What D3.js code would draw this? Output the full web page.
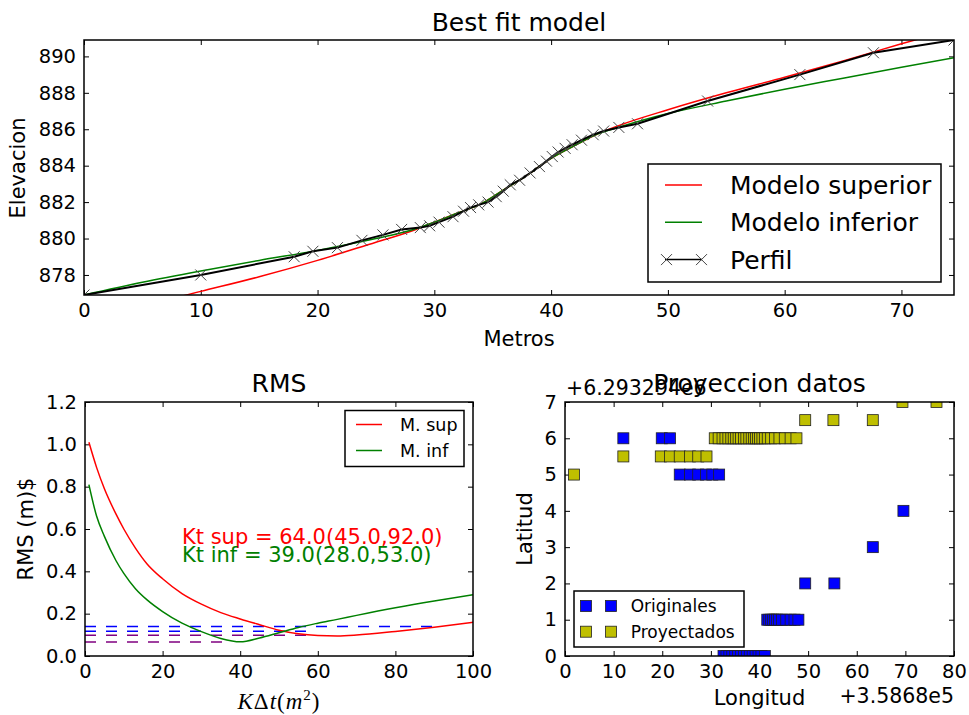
<!DOCTYPE html>
<html>
<head>
<meta charset="utf-8">
<script src="https://cdn.jsdelivr.net/npm/d3@7"></script>
<style>
  body { margin: 0; background: #fff; }
  text { font-family: 'DejaVu Sans', sans-serif; fill: #000; }
</style>
</head>
<body>
<div id="main"></div>
<script>
// ---- data: perfil y modelos (Metros / Elevacion)
const perfilMetros = [0, 10, 18.0, 19.6, 21.7, 23.8, 25.6, 27.2, 28.8, 29.6, 30.4, 31.6, 32.5, 33.1, 33.8, 34.6,
    35.3, 35.9, 36.5, 37.3, 38.2, 39.0, 39.6, 40.1, 40.6, 41.2, 41.8, 42.6, 43.6, 44.5, 45.8, 47.4, 53.4, 61.3, 67.6, 74.5];
const perfilElev = [876.9, 878.0, 879.0, 879.3, 879.5, 879.9, 880.2, 880.5, 880.6, 880.7, 880.9, 881.2, 881.5, 881.7, 881.85, 882.0,
    882.3, 882.6, 882.95, 883.2, 883.6, 883.95, 884.25, 884.5, 884.75, 884.95, 885.15, 885.4, 885.7, 885.9, 886.1, 886.3, 887.55, 889.0, 890.2, 890.9];

const modeloMetros = [0, 5, 10, 15, 20, 25, 28, 30, 32, 34, 36, 38, 40, 42, 44, 46, 50, 55, 60, 65, 70, 74.5];
const supElev = [875.6, 876.3, 877.1, 877.9, 878.8, 879.8, 880.4, 880.9, 881.4, 881.9, 882.7, 883.5, 884.4, 885.1, 885.75, 886.25, 887.07, 888.0, 888.86, 889.75, 890.69, 891.5];
const infElev = [876.9, 877.6, 878.22, 878.8, 879.35, 880.0, 880.45, 880.9, 881.4, 881.9, 882.7, 883.5, 884.4, 885.1, 885.75, 886.15, 886.86, 887.55, 888.2, 888.8, 889.4, 889.92];

// ---- data: RMS
const ktValues = [1, 3, 5, 8, 10, 13, 16, 20, 25, 30, 35, 40, 45, 50, 55, 60, 65, 70, 80, 90, 100];
const rmsSup = [1.01, 0.89, 0.79, 0.67, 0.60, 0.51, 0.435, 0.365, 0.295, 0.245, 0.205, 0.175, 0.148, 0.122, 0.105, 0.097, 0.095, 0.099, 0.116, 0.136, 0.159];
const rmsInf = [0.81, 0.66, 0.565, 0.45, 0.39, 0.318, 0.265, 0.21, 0.155, 0.115, 0.083, 0.067, 0.085, 0.11, 0.135, 0.155, 0.173, 0.192, 0.228, 0.26, 0.289];
const rmsLevels = [0.139, 0.117, 0.098, 0.066];
const rmsLevelEnd = [90, 58, 57, 36];
const rmsLevelColor = ['blue', 'blue', 'purple', 'purple'];

// ---- data: proyeccion (offsets +3.5868e5, +6.293294e6)
const origLon = [12.0, 19.9, 21.6, 23.6, 25.7, 27.4, 29.0, 30.3, 31.7,
    41.6, 42.0, 42.4, 42.8, 43.2, 43.6, 44.0, 44.6, 45.5, 46.4, 47.2, 48.0,
    32.6, 33.2, 33.8, 34.4, 35.0, 35.6, 36.2, 36.8, 37.4, 38.0, 38.6, 39.2, 39.8, 40.4, 41.1,
    49.4, 55.4, 63.3, 69.6];
const origLat = [6, 6, 6, 5, 5, 5, 5, 5, 5,
    1, 1, 1, 1, 1, 1, 1, 1, 1, 1, 1, 1,
    0, 0, 0, 0, 0, 0, 0, 0, 0, 0, 0, 0, 0, 0, 0,
    2, 2, 3, 4];
const proyLon = [1.85, 12.0, 19.7, 21.6, 23.6, 25.7, 27.4, 29.1,
    30.8, 31.6, 32.4, 33.0, 33.6, 34.2, 34.7, 35.2, 35.7, 36.2, 36.8, 37.3, 37.9, 38.4, 38.9, 39.3, 39.7, 40.1, 40.6, 41.1, 41.7, 42.4, 43.2, 44.1, 45.2, 46.4, 47.6,
    49.4, 55.2, 63.3, 69.4, 76.4];
const proyLat = [5, 5.5, 5.5, 5.5, 5.5, 5.5, 5.5, 5.5,
    6, 6, 6, 6, 6, 6, 6, 6, 6, 6, 6, 6, 6, 6, 6, 6, 6, 6, 6, 6, 6, 6, 6, 6, 6, 6, 6,
    6.5, 6.5, 6.5, 7, 7];

const width = 969, height = 715;
const svg = d3.select('#main').append('svg').attr('width', width).attr('height', height);

const zip = (xs, ys) => xs.map((x, i) => [x, ys[i]]);

// draws frame, inward ticks on the four sides and returns a clipped group
function drawPanel(p, xScale, yScale, xTicks, yTicks, yFmt) {
    const g = svg.append('g').attr('transform', `translate(${p.x},${p.y})`);
    g.append('clipPath').attr('id', p.id).append('rect')
        .attr('width', p.w).attr('height', p.h);

    const axes = [
        [d3.axisBottom(xScale).tickValues(xTicks).tickFormat(d3.format('d')).tickPadding(8), p.h, 0],
        [d3.axisTop(xScale).tickValues(xTicks).tickFormat(''), 0, 0],
        [d3.axisLeft(yScale).tickValues(yTicks).tickFormat(yFmt).tickPadding(8), 0, 0],
        [d3.axisRight(yScale).tickValues(yTicks).tickFormat(''), 0, p.w]
    ];
    axes.forEach(([ax, ty, tx]) => {
        const a = g.append('g').attr('transform', `translate(${tx},${ty})`)
            .call(ax.tickSizeInner(-5).tickSizeOuter(0));
        a.select('.domain').remove();
        a.selectAll('line').attr('stroke', '#000').attr('stroke-width', 1);
        a.selectAll('text').style('font-size', '19.5px').style('font-family', 'DejaVu Sans');
    });

    const plot = g.append('g').attr('clip-path', `url(#${p.id})`);
    return { g, plot, frame: () => g.append('rect').attr('width', p.w).attr('height', p.h)
        .attr('fill', 'none').attr('stroke', '#000').attr('stroke-width', 1.5) };
}

// ============ Best fit model
const pTop = { id: 'clipTop', x: 84, y: 40, w: 870, h: 255 };
const xTop = d3.scaleLinear().domain([0, 74.5]).range([0, pTop.w]);
const yTop = d3.scaleLinear().domain([876.9, 890.9]).range([pTop.h, 0]);
const topPanel = drawPanel(pTop, xTop, yTop, d3.range(0, 71, 10), d3.range(878, 891, 2), d3.format('d'));

const lineTop = d3.line().x(d => xTop(d[0])).y(d => yTop(d[1]));
topPanel.plot.append('path').datum(zip(modeloMetros, supElev))
    .attr('d', lineTop.curve(d3.curveMonotoneX)).attr('fill', 'none').attr('stroke', 'red').attr('stroke-width', 1.5);
topPanel.plot.append('path').datum(zip(modeloMetros, infElev))
    .attr('d', lineTop.curve(d3.curveMonotoneX)).attr('fill', 'none').attr('stroke', 'green').attr('stroke-width', 1.5);
topPanel.plot.append('path').datum(zip(perfilMetros, perfilElev))
    .attr('d', lineTop.curve(d3.curveLinear)).attr('fill', 'none').attr('stroke', '#000').attr('stroke-width', 2);

function xMark(sel, s) {
    sel.append('path').attr('d', `M${-s},${-s}L${s},${s}M${-s},${s}L${s},${-s}`)
        .attr('stroke', '#444').attr('stroke-width', 1).attr('fill', 'none');
}
topPanel.plot.selectAll('.perfil').data(zip(perfilMetros, perfilElev)).enter()
    .append('g').attr('class', 'perfil')
    .attr('transform', d => `translate(${xTop(d[0])},${yTop(d[1])})`)
    .each(function () { xMark(d3.select(this), 5.5); });
topPanel.frame();

// legend
const lgTop = topPanel.g.append('g').attr('transform', `translate(${648 - pTop.x},${164 - pTop.y})`);
lgTop.append('rect').attr('width', 293).attr('height', 118).attr('fill', '#fff').attr('stroke', '#000').attr('stroke-width', 1.5);
const topEntries = [['Modelo superior', 'red'], ['Modelo inferior', 'green'], ['Perfil', '#000']];
topEntries.forEach(([label, color], i) => {
    const y = 21 + i * 37.3;
    lgTop.append('line').attr('x1', 17).attr('x2', 54).attr('y1', y).attr('y2', y)
        .attr('stroke', color).attr('stroke-width', 1.5);
    if (i === 2) {
        [18.5, 53.5].forEach(x => xMark(lgTop.append('g').attr('transform', `translate(${x},${y})`), 5.5));
    }
    lgTop.append('text').attr('x', 82).attr('y', y + 9).style('font-size', '25px').text(label);
});

svg.append('text').attr('x', pTop.x + pTop.w / 2).attr('y', 31).style('font-size', '25px')
    .style('text-anchor', 'middle').text('Best fit model');
svg.append('text').attr('x', pTop.x + pTop.w / 2).attr('y', 346).style('font-size', '21px')
    .style('text-anchor', 'middle').text('Metros');
svg.append('text').attr('x', 25).attr('y', 168).style('font-size', '21px')
    .style('text-anchor', 'middle').attr('transform', 'rotate(-90,25,168)').text('Elevacion');

// ============ RMS
const pRms = { id: 'clipRms', x: 85, y: 402, w: 388, h: 254 };
const xRms = d3.scaleLinear().domain([0, 100]).range([0, pRms.w]);
const yRms = d3.scaleLinear().domain([0, 1.2]).range([pRms.h, 0]);
const rms = drawPanel(pRms, xRms, yRms, d3.range(0, 101, 20), d3.range(0, 1.21, 0.2), d3.format('.1f'));

rmsLevels.forEach((lv, i) => {
    rms.plot.append('line').attr('x1', xRms(0)).attr('x2', xRms(rmsLevelEnd[i]))
        .attr('y1', yRms(lv)).attr('y2', yRms(lv))
        .attr('stroke', rmsLevelColor[i]).attr('stroke-width', 1.5).attr('stroke-dasharray', '11,10');
});
const lineRms = d3.line().x(d => xRms(d[0])).y(d => yRms(d[1])).curve(d3.curveMonotoneX);
rms.plot.append('path').datum(zip(ktValues, rmsSup)).attr('d', lineRms)
    .attr('fill', 'none').attr('stroke', 'red').attr('stroke-width', 1.5);
rms.plot.append('path').datum(zip(ktValues, rmsInf)).attr('d', lineRms)
    .attr('fill', 'none').attr('stroke', 'green').attr('stroke-width', 1.5);
rms.frame();

rms.g.append('text').attr('x', xRms(25)).attr('y', yRms(0.527)).style('font-size', '21px')
    .style('fill', 'red').text('Kt sup = 64.0(45.0,92.0)');
rms.g.append('text').attr('x', xRms(25)).attr('y', yRms(0.445)).style('font-size', '21px')
    .style('fill', 'green').text('Kt inf = 39.0(28.0,53.0)');

const lgRms = rms.g.append('g').attr('transform', `translate(${345 - pRms.x},${410.5 - pRms.y})`);
lgRms.append('rect').attr('width', 119).attr('height', 56).attr('fill', '#fff').attr('stroke', '#000').attr('stroke-width', 1.5);
[['M. sup', 'red'], ['M. inf', 'green']].forEach(([label, color], i) => {
    const y = 14 + i * 26;
    lgRms.append('line').attr('x1', 11).attr('x2', 37).attr('y1', y).attr('y2', y)
        .attr('stroke', color).attr('stroke-width', 1.5);
    lgRms.append('text').attr('x', 55).attr('y', y + 6).style('font-size', '17.5px').text(label);
});

svg.append('text').attr('x', pRms.x + pRms.w / 2).attr('y', 392).style('font-size', '25px')
    .style('text-anchor', 'middle').text('RMS');
svg.append('text').attr('x', 33).attr('y', 529).style('font-size', '21px')
    .style('text-anchor', 'middle').attr('transform', 'rotate(-90,33,529)').text('RMS (m)$');
const kLabel = svg.append('text').attr('x', pRms.x + pRms.w / 2).attr('y', 709)
    .style('text-anchor', 'middle').style('font-family', 'Liberation Serif, DejaVu Serif, serif')
    .style('font-size', '23px').style('letter-spacing', '1px');
kLabel.append('tspan').style('font-style', 'italic').text('K');
kLabel.append('tspan').text('Δ');
kLabel.append('tspan').style('font-style', 'italic').text('t');
kLabel.append('tspan').text('(');
kLabel.append('tspan').style('font-style', 'italic').text('m');
kLabel.append('tspan').attr('dy', -9).style('font-size', '15px').text('2');
kLabel.append('tspan').attr('dy', 9).text(')');

// ============ Proyeccion datos
const pProj = { id: 'clipProj', x: 565, y: 402, w: 389, h: 254 };
const xProj = d3.scaleLinear().domain([0, 80]).range([0, pProj.w]);
const yProj = d3.scaleLinear().domain([0, 7]).range([pProj.h, 0]);
const proj = drawPanel(pProj, xProj, yProj, d3.range(0, 81, 10), d3.range(0, 8, 1), d3.format('d'));

function squares(data, color, cls) {
    proj.plot.selectAll('.' + cls).data(data).enter()
        .append('rect').attr('class', cls)
        .attr('x', d => xProj(d[0]) - 5.5).attr('y', d => yProj(d[1]) - 5.5)
        .attr('width', 11).attr('height', 11)
        .attr('fill', color).attr('stroke', '#222').attr('stroke-width', 0.8);
}
squares(zip(origLon, origLat), 'blue', 'orig');
squares(zip(proyLon, proyLat), '#bfbf00', 'proy');
proj.frame();

const lgProj = proj.g.append('g').attr('transform', `translate(${574 - pProj.x},${591 - pProj.y})`);
lgProj.append('rect').attr('width', 170).attr('height', 56).attr('fill', '#fff').attr('stroke', '#000').attr('stroke-width', 1.5);
[['Originales', 'blue'], ['Proyectados', '#bfbf00']].forEach(([label, color], i) => {
    const y = 15 + i * 25.7;
    [12, 37].forEach(x => lgProj.append('rect').attr('x', x - 5.5).attr('y', y - 5.5)
        .attr('width', 11).attr('height', 11).attr('fill', color).attr('stroke', '#222').attr('stroke-width', 0.8));
    lgProj.append('text').attr('x', 56.7).attr('y', y + 6).style('font-size', '17px').text(label);
});

svg.append('text').attr('x', pProj.x + pProj.w / 2).attr('y', 392).style('font-size', '25px')
    .style('text-anchor', 'middle').text('Proyeccion datos');
svg.append('text').attr('x', 566).attr('y', 395).style('font-size', '20.5px').text('+6.293294e6');
svg.append('text').attr('x', 954).attr('y', 703).style('font-size', '20.5px')
    .style('text-anchor', 'end').text('+3.5868e5');
svg.append('text').attr('x', pProj.x + pProj.w / 2).attr('y', 705).style('font-size', '21px')
    .style('text-anchor', 'middle').text('Longitud');
svg.append('text').attr('x', 532).attr('y', 529).style('font-size', '21px')
    .style('text-anchor', 'middle').attr('transform', 'rotate(-90,532,529)').text('Latitud');
</script>
</body>
</html>
